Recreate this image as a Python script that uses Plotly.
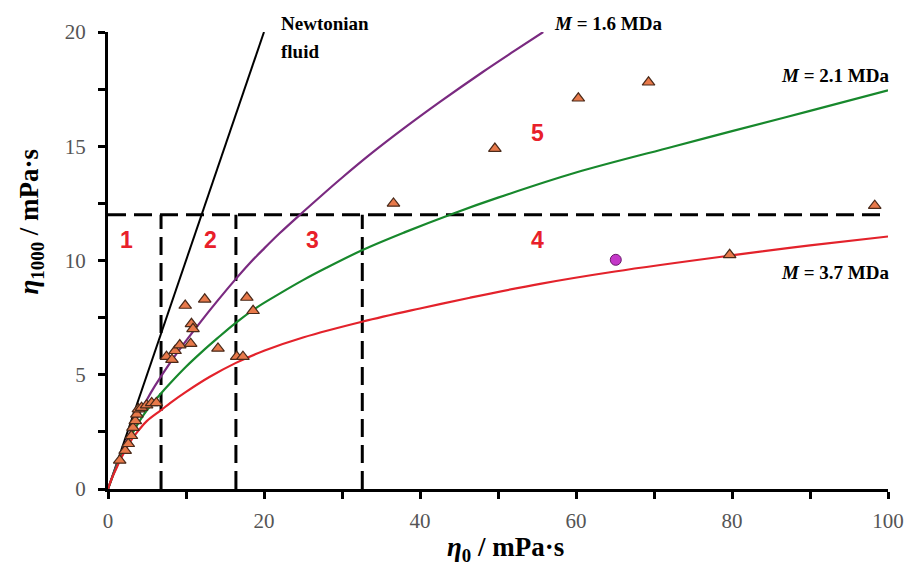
import plotly.graph_objects as go

# Newtonian fluid line
newt_x = [0, 20]
newt_y = [0, 20]

# M = 1.6 MDa (purple)
m16_x = [0, 1, 2, 3, 4, 5, 6, 8, 10, 12, 14, 15.9, 18.2, 20, 22, 24.6, 28, 30, 33.6, 38, 42.6, 48, 52, 55.8]
m16_y = [0, 0.95, 1.8, 2.59, 3.29, 3.92, 4.5, 5.54, 6.48, 7.37, 8.22, 9.0, 9.89, 10.52, 11.19, 12.0, 13.03, 13.62, 14.64, 15.8, 16.95, 18.24, 19.15, 20.0]

# M = 2.1 MDa (green)
m21_x = [0, 1, 2, 3, 4, 5, 6.7, 8, 10, 12, 14, 16.3, 19.1, 22, 25, 28, 32.7, 38, 44.2, 50, 60, 72.4, 80, 90, 100]
m21_y = [0, 0.9, 1.68, 2.35, 2.95, 3.45, 4.15, 4.64, 5.35, 5.99, 6.59, 7.25, 7.95, 8.55, 9.14, 9.68, 10.47, 11.23, 12.05, 12.75, 13.85, 14.98, 15.66, 16.55, 17.45]

# M = 3.7 MDa (red)
m37_x = [0, 0.5, 1, 1.5, 2, 3, 4, 5, 6.8, 8, 10, 13, 16.4, 20, 25, 32.7, 40, 46.4, 55.4, 65, 79.4, 90, 100]
m37_y = [0, 0.47, 0.85, 1.22, 1.55, 2.15, 2.6, 2.98, 3.45, 3.77, 4.25, 4.9, 5.52, 6.05, 6.63, 7.33, 7.9, 8.37, 8.98, 9.52, 10.2, 10.66, 11.05]

# experimental points (triangles)
tri_x = [1.5, 2.2, 2.6, 3.0, 3.2, 3.5, 3.7, 3.9, 4.3, 4.95, 5.6, 6.2,
         7.5, 8.2, 8.6, 9.2, 9.9, 10.7, 10.9, 10.6, 12.4, 14.1, 16.5, 17.3, 17.8, 18.6,
         36.6, 49.6, 60.3, 69.3, 79.7, 98.3]
tri_y = [1.25, 1.68, 1.98, 2.33, 2.69, 2.98, 3.27, 3.5, 3.56, 3.67, 3.77, 3.77,
         5.79, 5.66, 6.05, 6.3, 8.03, 7.23, 7.01, 6.36, 8.3, 6.15, 5.79, 5.79, 8.38, 7.8,
         12.5, 14.9, 17.1, 17.8, 10.25, 12.4]

# single circle point
circ_x = [65.1]
circ_y = [10.03]

# regime boundaries
bound_x = [6.8, 16.4, 32.6]
bound_y = 12
x_max = 100

# regime labels
reg_text = ["1", "2", "3", "4", "5"]
reg_x = [2.4, 13.1, 26.2, 55.1, 55.1]
reg_y = [10.9, 10.9, 10.9, 10.9, 15.6]

fig = go.Figure()

dash = "18px,8px"
fig.add_trace(go.Scatter(x=[0, x_max], y=[bound_y, bound_y], mode="lines",
                         line=dict(color="black", width=3, dash=dash), hoverinfo="skip"))
for bx in bound_x:
    fig.add_trace(go.Scatter(x=[bx, bx], y=[0, bound_y], mode="lines",
                             line=dict(color="black", width=3, dash=dash), hoverinfo="skip"))

fig.add_trace(go.Scatter(x=newt_x, y=newt_y, mode="lines", line=dict(color="black", width=2)))
fig.add_trace(go.Scatter(x=m16_x, y=m16_y, mode="lines", line=dict(color="#7a2a80", width=2.2, shape="spline")))
fig.add_trace(go.Scatter(x=m21_x, y=m21_y, mode="lines", line=dict(color="#17882c", width=2.2, shape="spline")))
fig.add_trace(go.Scatter(x=m37_x, y=m37_y, mode="lines", line=dict(color="#e3222b", width=2.2, shape="spline")))

fig.add_trace(go.Scatter(x=tri_x, y=tri_y, mode="markers",
                         marker=dict(symbol="triangle-up", size=11, color="#e8794a",
                                     line=dict(color="#4a2a1a", width=1.2)), cliponaxis=False))
fig.add_trace(go.Scatter(x=circ_x, y=circ_y, mode="markers",
                         marker=dict(symbol="circle", size=11, color="#c437c8",
                                     line=dict(color="#6a1a6a", width=1)), cliponaxis=False))

for t, x, y in zip(reg_text, reg_x, reg_y):
    fig.add_annotation(x=x, y=y, text="<b>" + t + "</b>", showarrow=False,
                       font=dict(family="Liberation Sans", size=23, color="#e8202a"))

serif = "Liberation Serif"
# plot area in window pixels: x 108..888, y 26..489
def px(p):
    return (p - 108) / 780.0
def py(p):
    return (489 - p) / 463.0

lab_font = dict(family=serif, size=19, color="black")
fig.add_annotation(xref="paper", yref="paper", x=px(279), y=py(17), xanchor="left", yanchor="middle",
                   text="<b>Newtonian</b>", showarrow=False, font=lab_font)
fig.add_annotation(xref="paper", yref="paper", x=px(279), y=py(46), xanchor="left", yanchor="middle",
                   text="<b>fluid</b>", showarrow=False, font=lab_font)
fig.add_annotation(xref="paper", yref="paper", x=px(552), y=py(17), xanchor="left", yanchor="middle",
                   text="<b><i>M</i> = 1.6 MDa</b>", showarrow=False, font=lab_font)
fig.add_annotation(xref="paper", yref="paper", x=px(891), y=py(70), xanchor="right", yanchor="middle",
                   text="<b><i>M</i> = 2.1 MDa</b>", showarrow=False, font=lab_font)
fig.add_annotation(xref="paper", yref="paper", x=px(891), y=py(270), xanchor="right", yanchor="middle",
                   text="<b><i>M</i> = 3.7 MDa</b>", showarrow=False, font=lab_font)

# axis titles
fig.add_annotation(xref="paper", yref="paper", x=px(505), y=py(550), xanchor="center", yanchor="middle",
                   text="<b><i>η</i><sub>0</sub> / mPa·s</b>", showarrow=False,
                   font=dict(family=serif, size=27, color="black"))
fig.add_annotation(xref="paper", yref="paper", x=px(31), y=py(218), xanchor="center", yanchor="middle",
                   textangle=-90, text="<b><i>η</i><sub>1000</sub> / mPa·s</b>", showarrow=False,
                   font=dict(family=serif, size=27, color="black"))

fig.update_layout(
    width=913, height=566,
    margin=dict(l=100, r=33, t=18, b=85),
    paper_bgcolor="white", plot_bgcolor="white",
    showlegend=False,
    xaxis=dict(range=[0, 100], dtick=20, tick0=0, showgrid=False, zeroline=False,
               showline=True, linecolor="black", linewidth=3,
               ticks="outside", ticklen=7, tickwidth=2.5, tickcolor="black",
               minor=dict(dtick=10, ticks="outside", ticklen=7, tickwidth=2.5, tickcolor="black"),
               tickfont=dict(family=serif, size=21, color="#555"), ticklabelstandoff=4),
    yaxis=dict(range=[0, 20], dtick=5, tick0=0, showgrid=False, zeroline=False,
               showline=True, linecolor="black", linewidth=3,
               ticks="outside", ticklen=7, tickwidth=2.5, tickcolor="black",
               minor=dict(dtick=2.5, ticks="outside", ticklen=7, tickwidth=2.5, tickcolor="black"),
               tickfont=dict(family=serif, size=21, color="#555"), ticklabelstandoff=8),
)

fig.write_html("out.html")
